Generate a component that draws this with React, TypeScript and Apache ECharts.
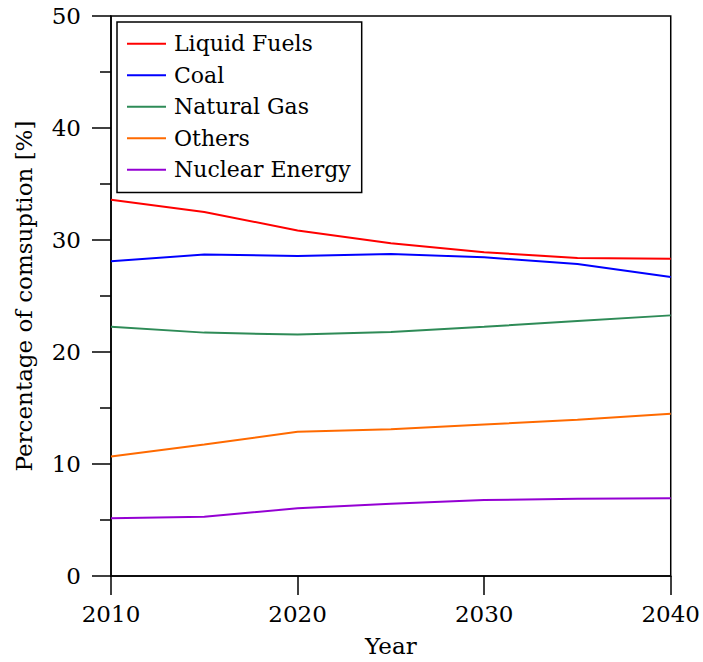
import React, { useEffect, useRef } from "react";
import * as echarts from "echarts";

const years = [2010, 2015, 2020, 2025, 2030, 2035, 2040];
const liquidFuels = [33.6, 32.5, 30.85, 29.7, 28.9, 28.4, 28.33];
const coal = [28.1, 28.7, 28.57, 28.75, 28.45, 27.86, 26.7];
const naturalGas = [22.26, 21.73, 21.56, 21.78, 22.26, 22.76, 23.27];
const others = [10.66, 11.75, 12.88, 13.1, 13.53, 13.94, 14.48];
const nuclear = [5.15, 5.3, 6.04, 6.45, 6.78, 6.9, 6.95];

const seriesNames = ["Liquid Fuels", "Coal", "Natural Gas", "Others", "Nuclear Energy"];
const seriesColors = ["#ff0000", "#0000ff", "#2e8b57", "#ff6a00", "#9400d3"];
const seriesValues = [liquidFuels, coal, naturalGas, others, nuclear];

const FONT = "DejaVu Serif, serif";

export default function App() {
  const ref = useRef<HTMLDivElement>(null);

  useEffect(() => {
    if (!ref.current) return;
    const chart = echarts.init(ref.current, undefined, { renderer: "svg" });
    const axisText = { color: "#000", fontFamily: FONT, fontSize: 23 };
    chart.setOption({
      animation: false,
      backgroundColor: "#fff",
      textStyle: { fontFamily: FONT },
      grid: {
        left: 111,
        right: 29,
        top: 16,
        bottom: 83,
        show: true,
        borderColor: "#000",
        borderWidth: 1.5,
        backgroundColor: "transparent",
      },
      legend: {
        orient: "vertical",
        left: 117,
        top: 22,
        icon: "rect",
        itemWidth: 39,
        itemHeight: 2,
        itemGap: 0,
        padding: [6, 11, 7, 10],
        borderColor: "#000",
        borderWidth: 1.5,
        backgroundColor: "#fff",
        textStyle: {
          color: "#000",
          fontFamily: FONT,
          fontSize: 22,
          lineHeight: 31.5,
          padding: [0, 0, 0, 3],
        },
        data: seriesNames,
      },
      xAxis: {
        type: "value",
        min: 2010,
        max: 2040,
        interval: 10,
        name: "Year",
        nameLocation: "middle",
        nameGap: 58,
        nameTextStyle: axisText,
        axisLine: { show: true, lineStyle: { color: "#000", width: 1.5 } },
        axisTick: { show: true, inside: false, length: 19, lineStyle: { color: "#000", width: 1.5 } },
        axisLabel: { ...axisText, margin: 26, formatter: (v: number) => String(v) },
        splitLine: { show: false },
      },
      yAxis: {
        type: "value",
        min: 0,
        max: 50,
        interval: 10,
        name: "Percentage of comsuption [%]",
        nameLocation: "middle",
        nameGap: 76,
        nameTextStyle: axisText,
        axisLine: { show: true, lineStyle: { color: "#000", width: 1.5 } },
        axisTick: { show: true, inside: false, length: 19, lineStyle: { color: "#000", width: 1.5 } },
        minorTick: { show: true, splitNumber: 2, length: 11, lineStyle: { color: "#000", width: 1.5 } },
        axisLabel: { ...axisText, margin: 30 },
        splitLine: { show: false },
      },
      series: seriesNames.map((name, i) => ({
        name,
        type: "line",
        showSymbol: false,
        symbol: "none",
        color: seriesColors[i],
        lineStyle: { color: seriesColors[i], width: 2 },
        data: years.map((y, j) => [y, seriesValues[i][j]]),
      })),
    });
    return () => chart.dispose();
  }, []);

  return (
    <div
      ref={ref}
      style={{ position: "fixed", left: 0, top: 0, width: 703, height: 662 }}
    />
  );
}
